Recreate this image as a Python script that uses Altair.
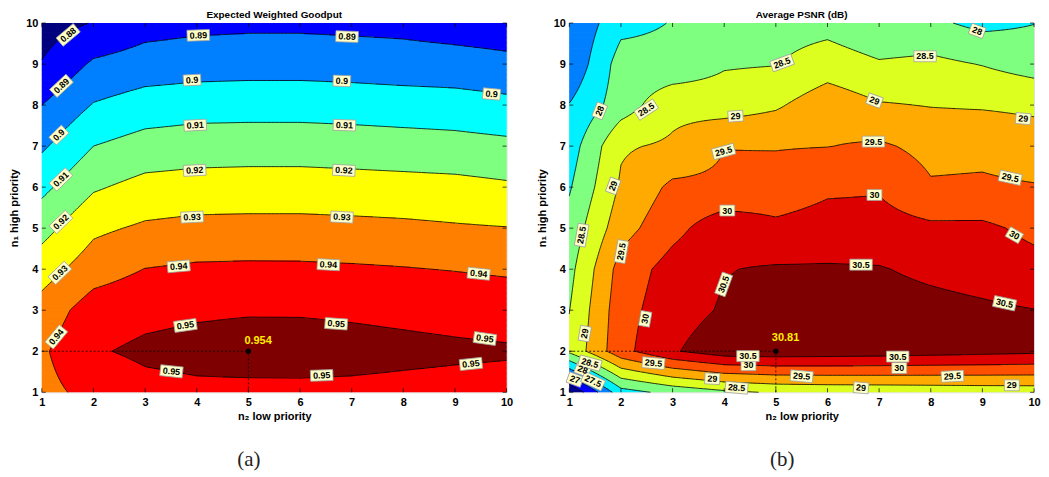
import numpy as np
import pandas as pd
import altair as alt

# ---------------- data ----------------
N2 = list(range(1, 11))   # x axis: n2 low priority
N1 = list(range(1, 11))   # y axis: n1 high priority

# Expected weighted goodput: one list per n2 value, entries for n1 = 1..10
g_n2_1 = [0.9370, 0.9385, 0.9340, 0.9255, 0.9165, 0.9075, 0.8985, 0.8900, 0.8805, 0.8755]
g_n2_2 = [0.9430, 0.9490, 0.9450, 0.9354, 0.9280, 0.9188, 0.9100, 0.9006, 0.8915, 0.8805]
g_n2_3 = [0.9470, 0.9518, 0.9475, 0.9402, 0.9315, 0.9232, 0.9140, 0.9045, 0.8945, 0.8860]
g_n2_4 = [0.9480, 0.9530, 0.9487, 0.9415, 0.9328, 0.9242, 0.9152, 0.9058, 0.8955, 0.8875]
g_n2_5 = [0.9478, 0.9540, 0.9492, 0.9418, 0.9330, 0.9245, 0.9155, 0.9060, 0.8960, 0.8880]
g_n2_6 = [0.9480, 0.9538, 0.9492, 0.9417, 0.9330, 0.9245, 0.9155, 0.9060, 0.8960, 0.8880]
g_n2_7 = [0.9480, 0.9530, 0.9487, 0.9412, 0.9326, 0.9240, 0.9150, 0.9055, 0.8955, 0.8875]
g_n2_8 = [0.9475, 0.9522, 0.9480, 0.9405, 0.9320, 0.9235, 0.9143, 0.9048, 0.8947, 0.8870]
g_n2_9 = [0.9470, 0.9515, 0.9472, 0.9396, 0.9310, 0.9230, 0.9135, 0.9043, 0.8940, 0.8855]
g_n2_10 = [0.9465, 0.9510, 0.9462, 0.9385, 0.9303, 0.9215, 0.9123, 0.9027, 0.8925, 0.8845]
goodput_cols = [g_n2_1, g_n2_2, g_n2_3, g_n2_4, g_n2_5, g_n2_6, g_n2_7, g_n2_8, g_n2_9, g_n2_10]

# Average PSNR (dB): one list per n2 value, entries for n1 = 1..10
p_n2_1 = [26.00, 28.60, 28.49, 28.35, 28.18, 27.95, 27.75, 27.52, 27.08, 27.02]
p_n2_2 = [27.80, 29.84, 29.80, 29.70, 29.30, 29.07, 28.94, 28.25, 28.22, 27.85]
p_n2_3 = [28.15, 30.45, 30.30, 30.20, 29.85, 29.605, 29.08, 28.85, 28.16, 28.02]
p_n2_4 = [28.40, 30.78, 30.55, 30.48, 30.30, 29.60, 29.49, 28.76, 28.45, 28.30]
p_n2_5 = [28.55, 30.81, 30.70, 30.55, 30.10, 29.73, 29.47, 28.93, 28.48, 28.30]
p_n2_6 = [28.60, 30.78, 30.72, 30.55, 30.20, 29.92, 29.49, 29.30, 28.75, 28.33]
p_n2_7 = [28.62, 30.75, 30.70, 30.53, 30.20, 29.95, 29.57, 29.04, 28.55, 28.10]
p_n2_8 = [28.65, 30.70, 30.65, 30.40, 30.10, 29.55, 29.36, 28.98, 28.62, 28.10]
p_n2_9 = [28.68, 30.65, 30.58, 30.30, 30.10, 29.57, 29.38, 28.95, 28.48, 27.87]
p_n2_10 = [28.70, 30.60, 30.51, 30.17, 29.88, 29.53, 29.25, 28.90, 28.29, 27.99]
psnr_cols = [p_n2_1, p_n2_2, p_n2_3, p_n2_4, p_n2_5, p_n2_6, p_n2_7, p_n2_8, p_n2_9, p_n2_10]

goodput_levels = [0.88, 0.89, 0.90, 0.91, 0.92, 0.93, 0.94, 0.95]
psnr_levels = [26.5, 27.0, 27.5, 28.0, 28.5, 29.0, 29.5, 30.0, 30.5]
goodput_colors = ["#00007F", "#0000FF", "#007FFF", "#00FFFF", "#7FFF7F",
                  "#FFFF00", "#FF7F00", "#FF0000", "#7F0000"]
psnr_colors = ["#00008F", "#0000FF", "#0080FF", "#00F0FF", "#7FFF7F",
               "#DCFF20", "#FFAA00", "#FF5000", "#DD0000", "#7F0000"]

# contour labels: text, n2, n1, rotation (deg, clockwise)
goodput_labels = [
    ("0.88", 1.51, 9.71, -40), ("0.89", 1.38, 8.47, -43), ("0.89", 4.03, 9.70, -2),
    ("0.89", 6.91, 9.67, 2), ("0.9", 1.33, 7.27, -44), ("0.9", 3.91, 8.61, -3),
    ("0.9", 6.81, 8.59, 2), ("0.9", 9.71, 8.27, 5), ("0.91", 1.37, 6.19, -44),
    ("0.91", 3.97, 7.51, -3), ("0.91", 6.86, 7.51, 2), ("0.92", 1.37, 5.15, -44),
    ("0.92", 3.96, 6.41, -3), ("0.92", 6.85, 6.41, 3), ("0.93", 1.35, 3.91, -44),
    ("0.93", 3.91, 5.27, -3), ("0.93", 6.81, 5.27, 3), ("0.94", 1.28, 2.35, -50),
    ("0.94", 3.65, 4.07, -5), ("0.94", 6.55, 4.11, 3), ("0.94", 9.46, 3.89, 6),
    ("0.95", 3.78, 2.63, -8), ("0.95", 3.51, 1.51, 6), ("0.95", 6.70, 2.67, 4),
    ("0.95", 9.58, 2.31, 8), ("0.95", 6.42, 1.41, -2), ("0.95", 9.31, 1.69, -6),
]
psnr_labels = [
    ("28", 1.59, 7.86, -68), ("28.5", 2.49, 7.89, -33), ("29", 4.22, 7.73, -4),
    ("29.5", 3.99, 6.87, -15), ("29", 1.85, 6.03, -70), ("30", 4.06, 5.43, 0),
    ("28.5", 5.12, 9.03, -20), ("28", 8.90, 9.81, 20), ("28.5", 7.89, 9.19, 0),
    ("29", 6.91, 8.11, 20), ("29", 9.79, 7.67, 5), ("29.5", 6.89, 7.11, 0),
    ("29.5", 9.54, 6.23, 12), ("30", 6.91, 5.81, 0), ("30", 9.62, 4.83, 30),
    ("30.5", 6.65, 4.11, 0), ("30.5", 9.43, 3.17, 12), ("30", 7.39, 1.59, 0),
    ("30.5", 7.36, 1.87, 0), ("29.5", 5.50, 1.39, 5), ("29.5", 8.42, 1.39, -3),
    ("29", 6.65, 1.11, 5), ("29", 9.57, 1.17, 0), ("28.5", 1.24, 4.83, -80),
    ("29.5", 2.01, 4.43, -80), ("30.5", 3.99, 3.63, -70), ("30", 2.47, 2.79, -80),
    ("29", 1.30, 2.43, -80), ("28", 1.26, 1.55, 20), ("27", 1.11, 1.31, 20),
    ("27.5", 1.46, 1.27, 25), ("28.5", 1.40, 1.71, 15), ("29.5", 2.63, 1.71, 5),
    ("29", 3.77, 1.33, 3), ("28.5", 4.24, 1.11, 5), ("30", 4.47, 1.66, 0),
    ("30.5", 4.46, 1.88, 0),
]

peak_n2, peak_n1 = 5, 2
peak_goodput = "0.954"
peak_psnr = "30.81"

# ---------------- helpers ----------------
W, H = 467, 371
FONT = "Liberation Sans"


def bilinear(Z, X, Y):
    i = np.clip(np.floor(X - 1).astype(int), 0, 8)
    j = np.clip(np.floor(Y - 1).astype(int), 0, 8)
    tx = X - 1 - i
    ty = Y - 1 - j
    return (Z[j, i] * (1 - tx) * (1 - ty) + Z[j, i + 1] * tx * (1 - ty)
            + Z[j + 1, i] * (1 - tx) * ty + Z[j + 1, i + 1] * tx * ty)


def fill_runs(Z, levels, colors, nrows=300):
    lv = np.array(levels)
    edges = np.linspace(1, 10, nrows + 1)
    dy = edges[1] - edges[0]
    out = []
    for k in range(nrows):
        y0, y1 = edges[k], edges[k + 1]
        yc = 0.5 * (y0 + y1)
        j = min(int(np.floor(yc - 1)), 8)
        ty = yc - 1 - j
        vx = Z[j, :] * (1 - ty) + Z[j + 1, :] * ty
        br = [1.0]
        for i in range(9):
            a, b = vx[i], vx[i + 1]
            for L in lv:
                if (a - L) * (b - L) < 0:
                    br.append(i + 1 + (L - a) / (b - a))
            br.append(i + 2.0)
        br = sorted(set(br))
        runs = []
        for p, q in zip(br[:-1], br[1:]):
            if q - p < 1e-9:
                continue
            m = 0.5 * (p + q)
            i = min(int(np.floor(m - 1)), 8)
            tx = m - 1 - i
            v = vx[i] * (1 - tx) + vx[i + 1] * tx
            band = int(np.searchsorted(lv, v, side="right"))
            if runs and runs[-1][2] == band:
                runs[-1][1] = q
            else:
                runs.append([p, q, band])
        ytop = min(y1 + 0.6 * dy, 10.0)
        for p, q, band in runs:
            qq = min(q + 0.01, 10.0)
            out.append(dict(x0=round(p, 4), x1=round(qq, 4), y0=round(y0, 4),
                            y1=round(ytop, 4), c=colors[band]))
    return pd.DataFrame(out)


def contour_segs(Z, levels, step=0.05):
    n = int(round(9 / step)) + 1
    g = np.linspace(1, 10, n)
    X, Y = np.meshgrid(g, g)
    V = bilinear(Z, X, Y)
    segs = []
    for L in levels:
        A = V >= L
        s = A[:-1, :-1].astype(int) + A[:-1, 1:] + A[1:, :-1] + A[1:, 1:]
        rr, cc = np.nonzero((s > 0) & (s < 4))
        for r, c in zip(rr, cc):
            P = [(g[c], g[r]), (g[c + 1], g[r]), (g[c + 1], g[r + 1]), (g[c], g[r + 1])]
            v = [V[r, c], V[r, c + 1], V[r + 1, c + 1], V[r + 1, c]]
            a = [x >= L for x in v]
            pts = {}
            for e in range(4):
                e2 = (e + 1) % 4
                if a[e] != a[e2]:
                    t = (L - v[e]) / (v[e2] - v[e])
                    pts[e] = (P[e][0] + t * (P[e2][0] - P[e][0]),
                              P[e][1] + t * (P[e2][1] - P[e][1]))
            ks = sorted(pts)
            if len(ks) == 2:
                pairs = [(ks[0], ks[1])]
            elif len(ks) == 4:
                center = np.mean(v) >= L
                pairs = [(0, 1), (2, 3)] if center == a[0] else [(3, 0), (1, 2)]
            else:
                pairs = []
            for e1, e2 in pairs:
                segs.append(dict(xa=round(pts[e1][0], 4), ya=round(pts[e1][1], 4),
                                 xb=round(pts[e2][0], 4), yb=round(pts[e2][1], 4)))
    return pd.DataFrame(segs)


def label_df(labels):
    rows = []
    for t, x, y, ang in labels:
        nd = sum(ch.isdigit() for ch in t)
        ndot = t.count(".")
        w = 9 * (0.556 * nd + 0.278 * ndot) + 5
        h = 11.0
        a = h / w
        path = f"M-1,{-a:.3f}L1,{-a:.3f}L1,{a:.3f}L-1,{a:.3f}Z"
        rows.append(dict(t=t, x=x, y=y, ang=ang % 360, shape=path, sz=w * w))
    return pd.DataFrame(rows)


xsc = alt.Scale(domain=[1, 10], nice=False, zero=False)
ysc = alt.Scale(domain=[1, 10], nice=False, zero=False)
XAX = alt.Axis(title="n₂ low priority", values=N2, format="d", tickSize=0, domain=False,
               grid=False, labelPadding=4, titlePadding=3, labelFlush=False,
               labelFontSize=11, labelFontWeight="bold", titleFontSize=11,
               titleFontWeight="bold", labelColor="black", titleColor="black",
               labelFont=FONT, titleFont=FONT)
YAX = alt.Axis(title="n₁ high priority", values=N1, format="d", tickSize=0, domain=False,
               grid=False, labelPadding=4, titlePadding=6, labelFlush=False,
               labelFontSize=11, labelFontWeight="bold", titleFontSize=11,
               titleFontWeight="bold", labelColor="black", titleColor="black",
               labelFont=FONT, titleFont=FONT)


def X(f):
    return alt.X(f, scale=xsc, axis=XAX)


def Y(f):
    return alt.Y(f, scale=ysc, axis=YAX)


def panel(title, cols, levels, colors, labels, peak_text, peak_dy, tag, tag_x):
    Z = np.array(cols, dtype=float).T  # [n1 index, n2 index]
    fill = fill_runs(Z, levels, colors)
    segs = contour_segs(Z, levels)
    lab = label_df(labels)

    rects = alt.Chart(fill).mark_rect(strokeWidth=0).encode(
        x=X("x0:Q"), x2="x1:Q", y=Y("y0:Q"), y2="y1:Q",
        color=alt.Color("c:N", scale=None))
    lines = alt.Chart(segs).mark_rule(color="black", strokeWidth=0.8).encode(
        x=X("xa:Q"), y=Y("ya:Q"), x2="xb:Q", y2="yb:Q")

    peak_lines = pd.DataFrame({"xa": [1, peak_n2], "ya": [peak_n1, 1],
                               "xb": [peak_n2, peak_n2], "yb": [peak_n1, peak_n1]})
    dashed = alt.Chart(peak_lines).mark_rule(color="black", strokeWidth=0.8,
                                             strokeDash=[2, 2]).encode(
        x=X("xa:Q"), y=Y("ya:Q"), x2="xb:Q", y2="yb:Q")
    pk = pd.DataFrame({"x": [peak_n2], "y": [peak_n1], "t": [peak_text]})
    dot = alt.Chart(pk).mark_point(filled=True, color="black", size=28, opacity=1).encode(
        x=X("x:Q"), y=Y("y:Q"))
    pktxt = alt.Chart(pk).mark_text(align="left", dx=-4, dy=peak_dy, font=FONT,
                                    fontSize=11, fontWeight="bold", color="#FFEE00").encode(
        x=X("x:Q"), y=Y("y:Q"), text="t:N")

    boxes = alt.Chart(lab).mark_point(filled=True, fill="#FFFFC8", stroke="#A0A0A0",
                                      strokeWidth=0.8, opacity=1).encode(
        x=X("x:Q"), y=Y("y:Q"), shape=alt.Shape("shape:N", scale=None),
        size=alt.Size("sz:Q", scale=None), angle=alt.Angle("ang:Q", scale=None))
    texts = alt.Chart(lab).mark_text(font=FONT, fontSize=9, fontWeight="bold",
                                     color="black", baseline="middle", align="center").encode(
        x=X("x:Q"), y=Y("y:Q"), text="t:N", angle=alt.Angle("ang:Q", scale=None))

    tk = pd.DataFrame({"v": N2})
    tb = alt.Chart(tk).mark_tick(size=4, thickness=1, color="black", yOffset=-2).encode(
        x=X("v:Q"), y=alt.value(H))
    tt = alt.Chart(tk).mark_tick(size=4, thickness=1, color="black", yOffset=2).encode(
        x=X("v:Q"), y=alt.value(0))
    tl = alt.Chart(tk).mark_tick(size=4, thickness=1, color="black", xOffset=2).encode(
        y=Y("v:Q"), x=alt.value(0))
    tr = alt.Chart(tk).mark_tick(size=4, thickness=1, color="black", xOffset=-2).encode(
        y=Y("v:Q"), x=alt.value(W))

    ttl = alt.Chart(pd.DataFrame({"t": [title]})).mark_text(
        font=FONT, fontSize=10, fontWeight="bold", align="center", baseline="alphabetic",
        color="black").encode(text="t:N", x=alt.value(W / 2), y=alt.value(-5))

    tagc = alt.Chart(pd.DataFrame({"t": [tag]})).mark_text(
        font="Liberation Serif", fontSize=21, align="center", baseline="alphabetic",
        color="#222222").encode(text="t:N", x=alt.value(tag_x), y=alt.value(H + 74))

    return alt.layer(rects, lines, dashed, dot, pktxt, boxes, texts,
                     tb, tt, tl, tr, ttl, tagc).properties(width=W, height=H)


left = panel("Expected Weighted Goodput", goodput_cols, goodput_levels, goodput_colors,
             goodput_labels, peak_goodput, -10, "(a)", 208)
right = panel("Average PSNR (dB)", psnr_cols, psnr_levels, psnr_colors,
              psnr_labels, peak_psnr, -13, "(b)", 214)

chart = alt.hconcat(left, right, spacing=22).properties(padding=0).configure_view(
    stroke="black", strokeWidth=1).configure(background="white")

chart.save("out.html", embed_options={"renderer": "svg", "actions": False})
